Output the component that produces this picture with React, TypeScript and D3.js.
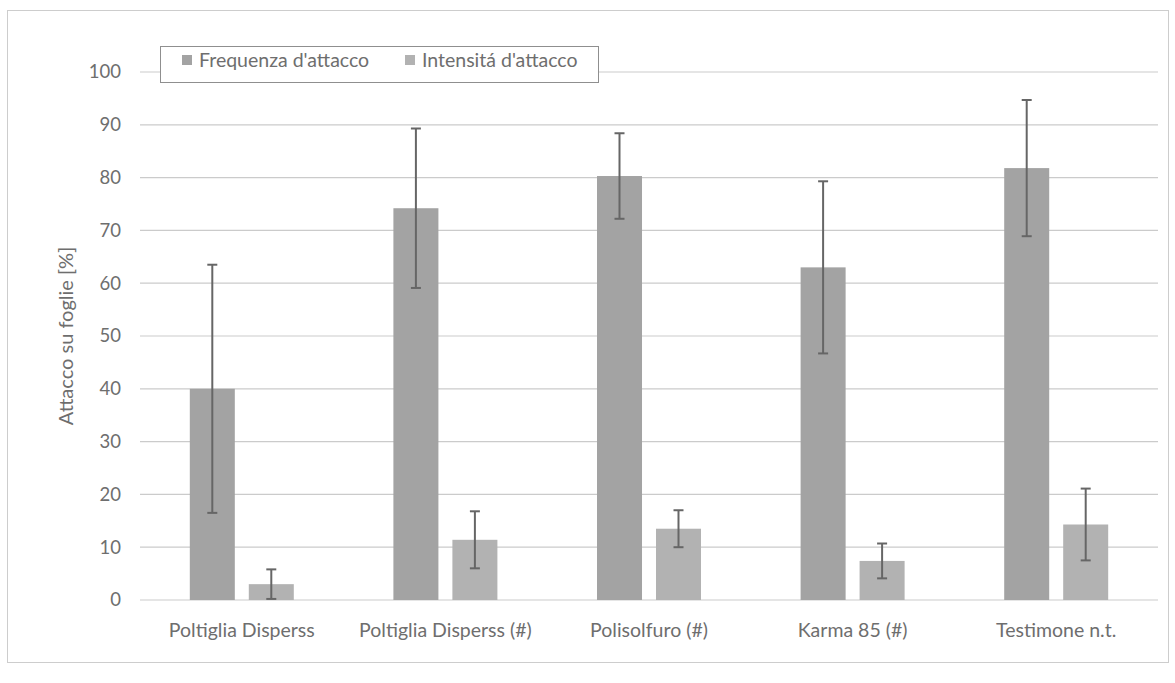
import React from "react";
import * as d3 from "d3";

const categories = [
  "Poltiglia Disperss",
  "Poltiglia Disperss (#)",
  "Polisolfuro (#)",
  "Karma 85 (#)",
  "Testimone n.t.",
];
const seriesNames = ["Frequenza d'attacco", "Intensitá d'attacco"];
const frequenza = [40.0, 74.2, 80.3, 63.0, 81.8];
const frequenzaErr = [23.5, 15.1, 8.1, 16.3, 12.9];
const intensita = [3.0, 11.4, 13.5, 7.4, 14.3];
const intensitaErr = [2.8, 5.4, 3.5, 3.3, 6.8];
const yTicks = [0, 10, 20, 30, 40, 50, 60, 70, 80, 90, 100];
const yTitle = "Attacco su foglie [%]";

const W = 1175;
const H = 683;
const FONT = "Lato, 'Open Sans', sans-serif";
const TEXT = "#6e6e6e";
const COLORS = ["#a3a3a3", "#b2b2b2"];

export default function App() {
  const x = d3.scaleBand<string>().domain(categories).range([140, 1158]).padding(0);
  const bw = x.bandwidth();
  const inner = d3
    .scaleBand<number>()
    .domain([0, 1])
    .range([bw / 2 - 52, bw / 2 + 52])
    .paddingInner(0.237)
    .paddingOuter(0);
  const y = d3.scaleLinear().domain([0, 100]).range([600, 72]);

  const series = [
    { vals: frequenza, errs: frequenzaErr },
    { vals: intensita, errs: intensitaErr },
  ];

  return (
    <svg
      width={W}
      height={H}
      style={{ position: "absolute", left: 0, top: 0, background: "#fff" }}
      fontFamily={FONT}
    >
      <rect x={0} y={0} width={W} height={H} fill="#fff" />
      <rect x={7.5} y={10.5} width={1161} height={652} fill="none" stroke="#cdcdcd" strokeWidth={1} />
      {yTicks.map((t) => (
        <g key={t}>
          <line x1={140} x2={1158} y1={y(t)} y2={y(t)} stroke="#cbcbcb" strokeWidth={1.2} />
          <text x={121} y={y(t)} dy="0.35em" textAnchor="end" fontSize={18.5} fill={TEXT}>
            {t}
          </text>
        </g>
      ))}
      <text
        transform={`translate(73,${336}) rotate(-90)`}
        textAnchor="middle"
        fontSize={20}
        fill={TEXT}
      >
        {yTitle}
      </text>
      {series.map((s, si) =>
        categories.map((c, ci) => {
          const bx = (x(c) as number) + (inner(si) as number);
          const bwid = inner.bandwidth();
          const v = s.vals[ci];
          const e = s.errs[ci];
          const cx = bx + bwid / 2;
          const lo = Math.max(0, v - e);
          const hi = v + e;
          return (
            <g key={`${si}-${ci}`}>
              <rect x={bx} y={y(v)} width={bwid} height={y(0) - y(v)} fill={COLORS[si]} />
              <line x1={cx} x2={cx} y1={y(hi)} y2={y(lo)} stroke="#666" strokeWidth={2} />
              <line x1={cx - 5} x2={cx + 5} y1={y(hi)} y2={y(hi)} stroke="#666" strokeWidth={2} />
              {v - e > 0 && (
                <line x1={cx - 5} x2={cx + 5} y1={y(lo)} y2={y(lo)} stroke="#666" strokeWidth={2} />
              )}
            </g>
          );
        })
      )}
      {categories.map((c) => (
        <text
          key={c}
          x={(x(c) as number) + bw / 2}
          y={637}
          textAnchor="middle"
          fontSize={19.5}
          fill={TEXT}
        >
          {c}
        </text>
      ))}
      <g>
        <rect x={160.5} y={46.5} width={438} height={36} fill="#fff" stroke="#8f8f8f" strokeWidth={1} />
        {seriesNames.map((n, i) => {
          const lx = i === 0 ? 182 : 405;
          return (
            <g key={n}>
              <rect x={lx} y={55} width={10} height={10} fill={COLORS[i]} />
              <text x={lx + 17} y={60} dy="0.35em" fontSize={19.5} fill={TEXT}>
                {n}
              </text>
            </g>
          );
        })}
      </g>
    </svg>
  );
}
